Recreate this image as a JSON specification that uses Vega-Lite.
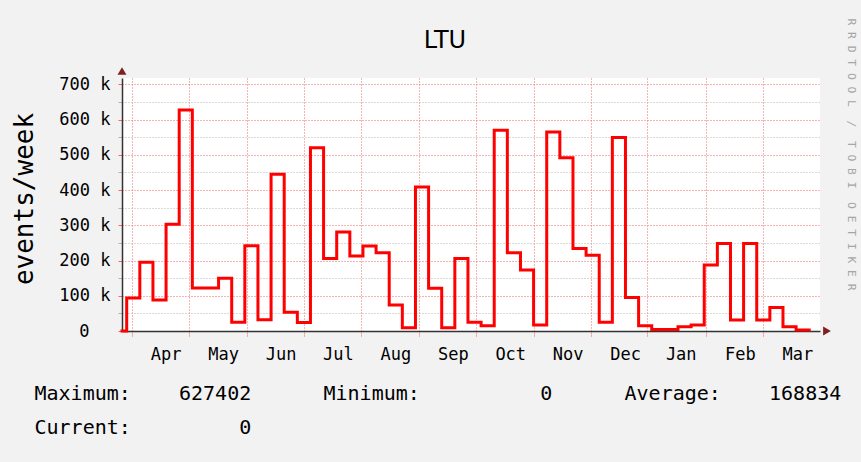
{
  "$schema": "https://vega.github.io/schema/vega-lite/v6.json",
  "width": 698,
  "height": 253,
  "autosize": {"type": "none"},
  "padding": {"left": 122, "top": 78, "right": 41, "bottom": 131},
  "background": "#F2F2F2",
  "title": {
    "text": "LTU",
    "anchor": "middle",
    "frame": "group",
    "font": "DejaVu Sans",
    "fontSize": 24,
    "fontWeight": "normal",
    "color": "#000000",
    "dx": -26,
    "dy": 39
  },
  "data": {
    "values": [
      {"week": -0.358, "value": 0},
      {"week": 0, "value": 94000},
      {"week": 1, "value": 195000},
      {"week": 2, "value": 88000},
      {"week": 3, "value": 303000},
      {"week": 4, "value": 627402},
      {"week": 5, "value": 122000},
      {"week": 6, "value": 122000},
      {"week": 7, "value": 150000},
      {"week": 8, "value": 25000},
      {"week": 9, "value": 242000},
      {"week": 10, "value": 32000},
      {"week": 11, "value": 445000},
      {"week": 12, "value": 53000},
      {"week": 13, "value": 24000},
      {"week": 14, "value": 520000},
      {"week": 15, "value": 206000},
      {"week": 16, "value": 281000},
      {"week": 17, "value": 213000},
      {"week": 18, "value": 241000},
      {"week": 19, "value": 222000},
      {"week": 20, "value": 74000},
      {"week": 21, "value": 9000},
      {"week": 22, "value": 409000},
      {"week": 23, "value": 121000},
      {"week": 24, "value": 9000},
      {"week": 25, "value": 206000},
      {"week": 26, "value": 25000},
      {"week": 27, "value": 15000},
      {"week": 28, "value": 570000},
      {"week": 29, "value": 222000},
      {"week": 30, "value": 173000},
      {"week": 31, "value": 17000},
      {"week": 32, "value": 565000},
      {"week": 33, "value": 492000},
      {"week": 34, "value": 234000},
      {"week": 35, "value": 215000},
      {"week": 36, "value": 25000},
      {"week": 37, "value": 549000},
      {"week": 38, "value": 95000},
      {"week": 39, "value": 15000},
      {"week": 40, "value": 4000},
      {"week": 41, "value": 4000},
      {"week": 42, "value": 12000},
      {"week": 43, "value": 17000},
      {"week": 44, "value": 187000},
      {"week": 45, "value": 248000},
      {"week": 46, "value": 31000},
      {"week": 47, "value": 248000},
      {"week": 48, "value": 31000},
      {"week": 49, "value": 67000},
      {"week": 50, "value": 12000},
      {"week": 51, "value": 3000},
      {"week": 52, "value": 3000}
    ]
  },
  "layer": [
    {
      "mark": {"type": "line", "interpolate": "step-after", "color": "#FF0000", "strokeWidth": 3, "strokeJoin": "miter", "strokeCap": "square"},
      "encoding": {
        "x": {
          "field": "week",
          "type": "quantitative",
          "scale": {"domain": [-0.358, 52.82], "nice": false, "zero": false},
          "axis": {
            "orient": "bottom",
            "values": [0.38, 4.755, 9.13, 13.505, 17.88, 22.255, 26.63, 31.005, 35.38, 39.62, 44.13, 48.505],
            "grid": true,
            "gridColor": "#EE6A6A",
            "gridDash": [1, 2],
            "gridWidth": 1,
            "ticks": true,
            "tickSize": 5,
            "tickColor": "#EE6A6A",
            "tickDash": [1, 1],
            "domain": true,
            "domainColor": "#333333",
            "domainWidth": 1.5,
            "labelExpr": "['Apr','May','Jun','Jul','Aug','Sep','Oct','Nov','Dec','Jan','Feb','Mar'][round((datum.value - 0.38) / 4.375)]",
            "labelOffset": 34,
            "labelPadding": 10,
            "labelBaseline": "top",
            "labelAlign": "center",
            "labelFont": "DejaVu Sans Mono",
            "labelFontSize": 17,
            "labelColor": "#000000",
            "labelOverlap": false,
            "labelBound": false,
            "labelFlush": false,
            "title": [
              "Maximum:\u00a0\u00a0\u00a0\u00a0627402\u00a0\u00a0\u00a0\u00a0\u00a0\u00a0Minimum:\u00a0\u00a0\u00a0\u00a0\u00a0\u00a0\u00a0\u00a0\u00a0\u00a00\u00a0\u00a0\u00a0\u00a0\u00a0\u00a0Average:\u00a0\u00a0\u00a0\u00a0168834",
              "Current:\u00a0\u00a0\u00a0\u00a0\u00a0\u00a0\u00a0\u00a0\u00a00"
            ],
            "titleFont": "DejaVu Sans Mono",
            "titleFontSize": 20,
            "titleFontWeight": "normal",
            "titleColor": "#000000",
            "titleAlign": "left",
            "titleAnchor": "start",
            "titleBaseline": "top",
            "titleX": -88,
            "titleY": 52,
            "titleLineHeight": 34
          }
        },
        "y": {
          "field": "value",
          "type": "quantitative",
          "scale": {"domain": [0, 718000], "nice": false, "zero": true},
          "axis": {
            "values": [0, 50000, 100000, 150000, 200000, 250000, 300000, 350000, 400000, 450000, 500000, 550000, 600000, 650000, 700000],
            "grid": true,
            "gridColor": {"condition": {"test": "datum.value % 100000 === 0", "value": "#EE6A6A"}, "value": "#B4B4B4"},
            "gridDash": [1, 2],
            "gridWidth": 1,
            "ticks": true,
            "tickSize": 4,
            "tickColor": {"condition": {"test": "datum.value % 100000 === 0", "value": "#EE6A6A"}, "value": "#B4B4B4"},
            "domain": true,
            "domainColor": "#333333",
            "domainWidth": 1.5,
            "labelExpr": "datum.value % 100000 === 0 ? (datum.value === 0 ? '0' : (datum.value / 1000) + '\u00a0k') : ''",
            "labelPadding": {"condition": {"test": "datum.value === 0", "value": 29}, "value": 8},
            "labelFont": "DejaVu Sans Mono",
            "labelFontSize": 17,
            "labelColor": "#000000",
            "labelOverlap": false,
            "labelBound": false,
            "labelFlush": false,
            "title": "events/week",
            "titleFont": "DejaVu Sans Mono",
            "titleFontSize": 26,
            "titleFontWeight": "normal",
            "titleColor": "#000000",
            "titleAngle": 270,
            "titleAlign": "center",
            "titleBaseline": "alphabetic",
            "titleX": -90,
            "titleY": 120.5
          }
        }
      }
    },
    {
      "data": {"values": [{"marker": "y-axis arrow"}]},
      "mark": {"type": "point", "shape": "triangle-up", "filled": true, "color": "#7F1F1F", "opacity": 1, "size": 80, "yOffset": -7},
      "encoding": {
        "x": {"datum": -0.358, "type": "quantitative", "axis": null},
        "y": {
          "datum": 718000,
          "type": "quantitative",
          "axis": {
            "orient": "right",
            "labels": false,
            "ticks": false,
            "domain": false,
            "grid": false,
            "title": "R\u00a0R\u00a0D\u00a0T\u00a0O\u00a0O\u00a0L\u00a0\u00a0/\u00a0\u00a0T\u00a0O\u00a0B\u00a0I\u00a0\u00a0O\u00a0E\u00a0T\u00a0I\u00a0K\u00a0E\u00a0R",
            "titleFont": "DejaVu Sans Mono",
            "titleFontSize": 11.3,
            "titleFontWeight": "normal",
            "titleColor": "#A6A6A6",
            "titleAngle": 90,
            "titleAlign": "center",
            "titleBaseline": "alphabetic",
            "titleX": 27,
            "titleY": 76
          }
        }
      }
    },
    {
      "data": {"values": [{"marker": "x-axis arrow"}]},
      "mark": {"type": "point", "shape": "triangle-right", "filled": true, "color": "#7F1F1F", "opacity": 1, "size": 80, "xOffset": 7},
      "encoding": {
        "x": {"datum": 52.82, "type": "quantitative", "axis": null},
        "y": {"datum": 0, "type": "quantitative", "axis": null}
      }
    }
  ],
  "resolve": {"axis": {"x": "independent", "y": "independent"}},
  "config": {"view": {"fill": "#FFFFFF", "stroke": null}}
}
